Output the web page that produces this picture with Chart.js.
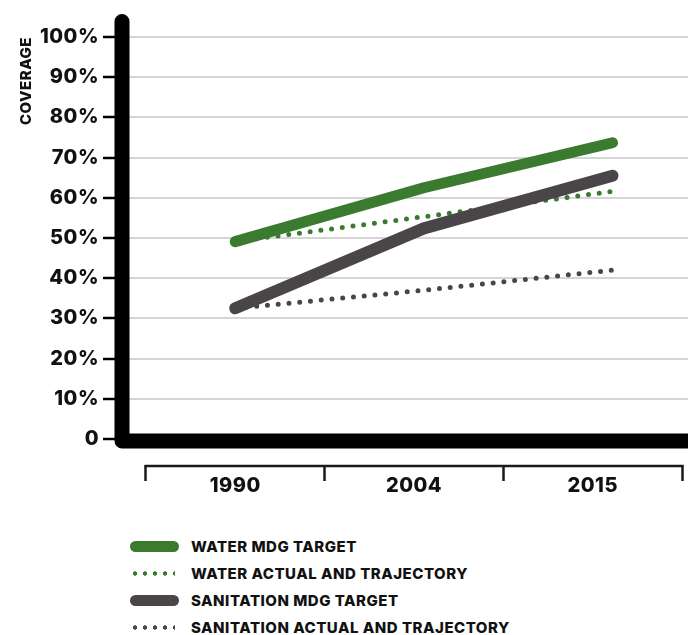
<!DOCTYPE html>
<html>
<head>
<meta charset="utf-8">
<script src="https://cdn.jsdelivr.net/npm/chart.js@4/dist/chart.umd.min.js"></script>
<style>
body { margin: 0; background: #fff; font-family: Inter, "Noto Sans", sans-serif; }
#wrap { position: relative; width: 688px; height: 520px; }
#legend { list-style: none; margin: 13px 0 0 0; padding: 0 0 0 130px; }
#legend li { display: flex; align-items: center; height: 27px; font-size: 15px; font-weight: 800; letter-spacing: 0.5px; color: #111; }
#legend .key { width: 61px; display: flex; align-items: center; }
#legend .solid { width: 49px; height: 11px; border-radius: 6px; }
#legend .dots { width: 45px; height: 5px; background-size: 10px 5px; background-repeat: repeat-x; }
</style>
</head>
<body>
<div id="wrap"><canvas id="coverage"></canvas></div>
<ul id="legend"></ul>
<script>
var years = ['1990', '2004', '2015'];
var waterTarget = [49.1, 62.5, 73.7];
var waterActual = [49.1, 55.3, 61.6];
var sanitationTarget = [32.5, 52.4, 65.5];
var sanitationActual = [32.5, 37.0, 42.0];

var green = '#3b7b30';
var grey = '#4a4548';
var labelFont = { family: 'Inter', size: 20, weight: 800 };

function points(values) {
    return values.map(function (v, i) {
        return { x: i, y: v };
    });
}

// thick L-shaped frame and the bracket under the years
var axisFrame = {
    id: 'axisFrame',
    beforeDraw: function (chart) {
        chart.ctx.letterSpacing = '0.5px';
    },
    afterDraw: function (chart) {
        var ctx = chart.ctx,
            y = chart.scales.y,
            x2 = chart.scales.x2,
            left = chart.chartArea.left,
            base = y.getPixelForValue(0) + 2;

        ctx.save();
        ctx.strokeStyle = '#000';
        ctx.lineWidth = 15;
        ctx.lineCap = 'round';
        ctx.lineJoin = 'round';
        ctx.beginPath();
        ctx.moveTo(left, 21.5);
        ctx.lineTo(left, base);
        ctx.lineTo(chart.width + 20, base);
        ctx.stroke();

        ctx.strokeStyle = '#1a1a1a';
        ctx.lineWidth = 2.5;
        ctx.lineCap = 'butt';
        ctx.beginPath();
        ctx.moveTo(x2.getPixelForValue(0) - 1.25, x2.top + 1);
        ctx.lineTo(x2.getPixelForValue(3) + 1.25, x2.top + 1);
        ctx.stroke();
        ctx.restore();
    }
};

var chart = new Chart(document.getElementById('coverage'), {
    type: 'line',
    data: {
        datasets: [
            {
                label: 'WATER MDG TARGET',
                data: points(waterTarget),
                borderColor: green,
                borderWidth: 11,
                order: 0
            },
            {
                label: 'WATER ACTUAL AND TRAJECTORY',
                data: points(waterActual),
                borderColor: green,
                borderWidth: 5,
                borderDash: [0, 10.8],
                order: 2
            },
            {
                label: 'SANITATION MDG TARGET',
                data: points(sanitationTarget),
                borderColor: grey,
                borderWidth: 12,
                order: 1
            },
            {
                label: 'SANITATION ACTUAL AND TRAJECTORY',
                data: points(sanitationActual),
                borderColor: grey,
                borderWidth: 5,
                borderDash: [0, 10.8],
                order: 3
            }
        ]
    },
    options: {
        responsive: true,
        maintainAspectRatio: false,
        animation: false,
        layout: { padding: { top: 37, left: 0, right: 0, bottom: 0 } },
        elements: {
            point: { radius: 0 },
            line: { tension: 0, borderCapStyle: 'round', borderJoinStyle: 'round', fill: false }
        },
        plugins: {
            legend: { display: false },
            tooltip: { enabled: false }
        },
        scales: {
            x: {
                type: 'linear',
                position: 'bottom',
                weight: 0,
                min: -0.6,
                max: 2.4,
                ticks: { display: false },
                grid: { display: false },
                border: { display: false },
                afterFit: function (s) { s.height = 26; }
            },
            x2: {
                type: 'linear',
                position: 'bottom',
                weight: 1,
                min: -0.134,
                max: 3.033,
                afterBuildTicks: function (s) {
                    s.ticks = [0, 0.5, 1, 1.5, 2, 2.5, 3].map(function (v) { return { value: v }; });
                },
                afterFit: function (s) { s.height = 55; },
                border: { display: false },
                grid: {
                    drawOnChartArea: false,
                    tickLength: 16,
                    tickWidth: 2.5,
                    tickColor: function (c) {
                        return c.tick && c.tick.value % 1 === 0 ? '#1a1a1a' : 'rgba(0,0,0,0)';
                    }
                },
                ticks: {
                    autoSkip: false,
                    maxRotation: 0,
                    padding: -7,
                    color: '#111',
                    font: labelFont,
                    callback: function (v) {
                        return v % 1 === 0 ? '' : years[Math.floor(v)];
                    }
                }
            },
            y: {
                min: 0,
                max: 100,
                afterFit: function (s) { s.width = 122; },
                border: { display: false },
                grid: {
                    color: '#d5d5d5',
                    lineWidth: 2,
                    tickLength: 19,
                    tickWidth: 2.5,
                    tickColor: '#000'
                },
                ticks: {
                    stepSize: 10,
                    padding: 4,
                    color: '#111',
                    font: labelFont,
                    callback: function (v) { return v === 0 ? '0' : v + '%'; }
                },
                title: {
                    display: true,
                    text: 'COVERAGE',
                    align: 'end',
                    color: '#111',
                    font: { family: 'Inter', size: 15, weight: 800 },
                    padding: { top: 17, bottom: 0 }
                }
            }
        }
    },
    plugins: [axisFrame]
});

// legend built from the datasets
var list = document.getElementById('legend');
chart.data.datasets.forEach(function (ds) {
    var li = document.createElement('li'),
        key = document.createElement('span'),
        mark = document.createElement('span');
    key.className = 'key';
    if (ds.borderDash) {
        mark.className = 'dots';
        mark.style.backgroundImage = 'radial-gradient(circle at 5px 2.5px, ' + ds.borderColor + ' 1.9px, rgba(0,0,0,0) 2.5px)';
    } else {
        mark.className = 'solid';
        mark.style.background = ds.borderColor;
    }
    key.appendChild(mark);
    li.appendChild(key);
    li.appendChild(document.createTextNode(ds.label));
    list.appendChild(li);
});
</script>
</body>
</html>
